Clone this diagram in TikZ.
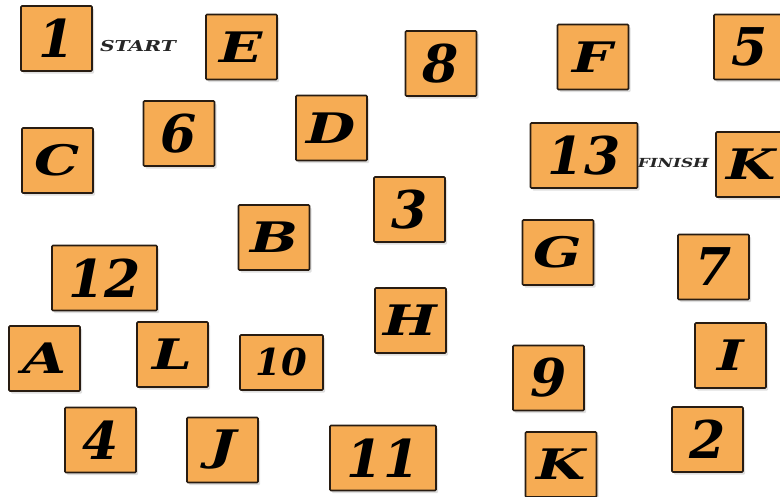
\documentclass[tikz,border=0pt]{standalone}
\usepackage{fontspec}
\usepackage{xcolor}
\usepackage{tikz}
\usetikzlibrary{shadows}

\newfontfamily\numfont{DejaVu Serif}
\newfontfamily\letterfont[FakeStretch=1.35]{DejaVu Serif}

\definecolor{tileorange}{RGB}{246,172,84}
\definecolor{tileedge}{RGB}{40,28,18}

\tikzset{
  tile/.style={draw=tileedge, fill=tileorange, line width=1.6pt, rounded corners=1pt,
    inner sep=0pt, minimum width=71pt, minimum height=65pt,
    drop shadow={opacity=0.25, shadow xshift=2pt, shadow yshift=-2.5pt},
    font=\letterfont\fontsize{42}{42}\selectfont\bfseries\itshape},
  numtile/.style={tile, font=\numfont\fontsize{52}{52}\selectfont\bfseries\itshape},
  wide/.style={minimum width=107pt},
  tag/.style={font=\letterfont\fontsize{15}{15}\selectfont\bfseries\itshape, text=black!85}
}

\begin{document}
\begin{tikzpicture}[x=1pt, y=-1pt]
\useasboundingbox (0,0) rectangle (780,496);
\clip (0,0) rectangle (780,496);

% Top row
\node[numtile] (t1) at (56.5,38.5) {1};
\node[tag] (start) at (138,46) {START};
\node[tile] (tE) at (241.5,47) {E};
\node[numtile] (t8) at (441,63.5) {8};
\node[tile] (tF) at (593,57) {F};
\node[numtile] (t5) at (749.5,47) {5};

% Second row
\node[numtile] (t6) at (179,133.5) {6};
\node[tile] (tC) at (57.5,160.5) {C};
\node[tile] (tD) at (331.5,128) {D};
\node[numtile, wide] (t13) at (584,155.5) {13};
\node[tag, font=\letterfont\fontsize{12.5}{12.5}\selectfont\bfseries\itshape] (finish) at (673.5,163) {FINISH};
\node[tile] (tK) at (751.5,164.5) {K};

% Middle
\node[numtile, wide, minimum width=105pt] (t12) at (104.5,278) {12};
\node[tile] (tB) at (274,237.5) {B};
\node[numtile] (t3) at (409.5,209.5) {3};
\node[tile] (tH) at (410.5,320.5) {H};
\node[tile] (tG) at (558,252.5) {G};
\node[numtile] (t7) at (713.5,267) {7};
\node[tile] (tI) at (730.5,355.5) {I};

% Lower rows
\node[tile] (tA) at (44.5,358.5) {A};
\node[tile] (tL) at (172.5,354.5) {L};
\node[numtile, minimum width=83pt, minimum height=55pt,
  font=\numfont\fontsize{37}{37}\selectfont\bfseries\itshape] (t10) at (281.5,362.5) {10};
\node[numtile] (t9) at (548.5,378) {9};
\node[numtile] (t4) at (100.5,440) {4};
\node[tile] (tJ) at (222.5,450) {J};
\node[numtile, wide, minimum width=106pt] (t11) at (383,458) {11};
\node[tile] (tK2) at (561,464.5) {K};
\node[numtile] (t2) at (707.5,439.5) {2};

\end{tikzpicture}
\end{document}
